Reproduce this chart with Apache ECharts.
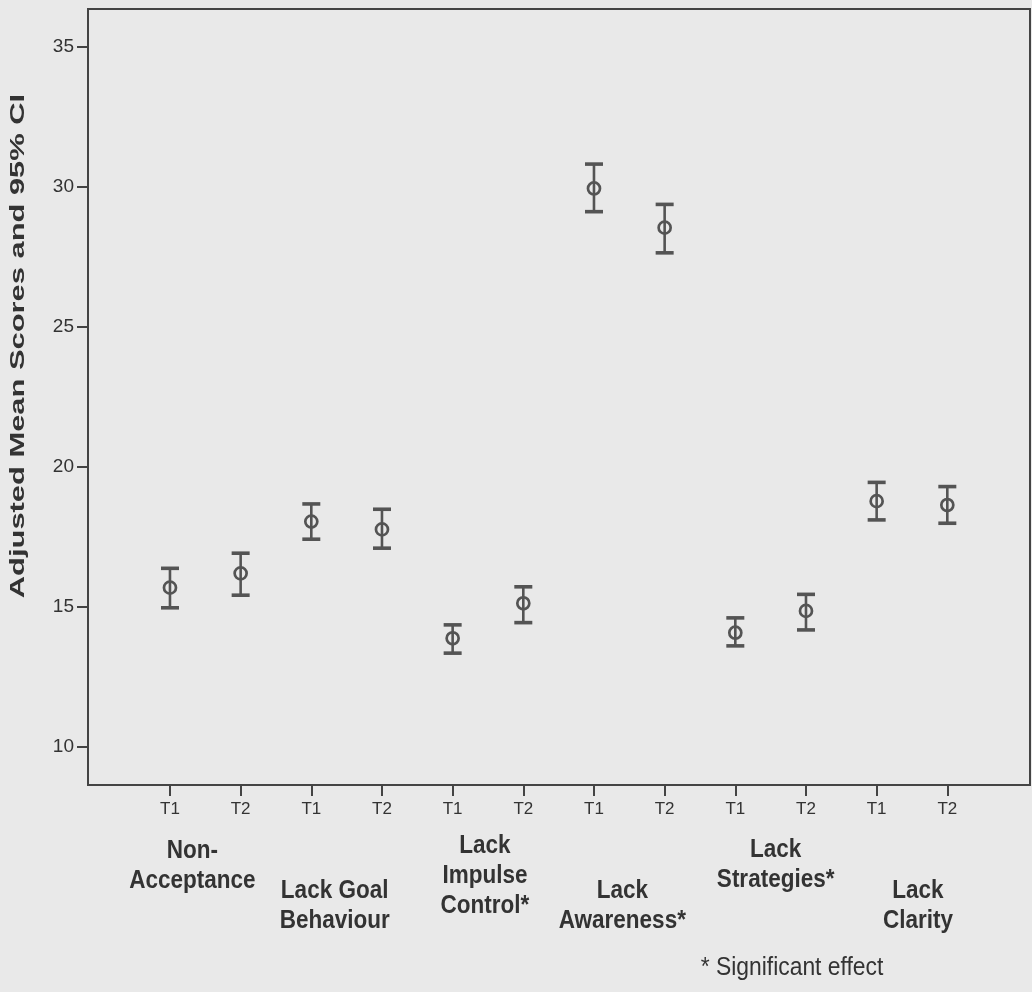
<!DOCTYPE html>
<html>
<head>
<meta charset="utf-8">
<script src="https://cdn.jsdelivr.net/npm/echarts@6/dist/echarts.min.js"></script>
<style>
  html, body { margin: 0; padding: 0; background: #e9e9e9; }
  #chart { width: 1032px; height: 992px; }
</style>
</head>
<body>
<div id="chart"></div>
<script>
// ---- data ----
const groupLabels = ['Non-\nAcceptance', 'Lack Goal\nBehaviour', 'Lack\nImpulse\nControl*', 'Lack\nAwareness*', 'Lack\nStrategies*', 'Lack\nClarity'];
const timeLabels = ['T1', 'T2', 'T1', 'T2', 'T1', 'T2', 'T1', 'T2', 'T1', 'T2', 'T1', 'T2'];
const means  = [15.68, 16.19, 18.04, 17.76, 13.87, 15.12, 29.94, 28.54, 14.07, 14.85, 18.77, 18.63];
const ciLow  = [14.96, 15.41, 17.41, 17.09, 13.34, 14.43, 29.11, 27.64, 13.60, 14.17, 18.10, 17.98];
const ciHigh = [16.37, 16.91, 18.67, 18.48, 14.35, 15.71, 30.81, 29.37, 14.60, 15.44, 19.44, 19.29];
const yTicks = [10, 15, 20, 25, 30, 35];
const footnote = '* Significant effect';
const yTitle = 'Adjusted Mean Scores and 95% CI';

// ---- layout ----
const positions = timeLabels.map((_, i) => i + 1);
const groupCenters = groupLabels.map((_, g) => 2 * g + 1.5);
const groupDx = [-13, -12, -3, -7, 5, 6];
const groupTopY = [836, 876, 831, 876, 835, 876];
const sans = '"Liberation Sans", Arial, sans-serif';

const seriesData = positions.map((p, i) => [p, means[i], ciLow[i], ciHigh[i]]);

const chart = echarts.init(document.getElementById('chart'), null, { renderer: 'canvas' });

chart.setOption({
  backgroundColor: '#e9e9e9',
  animation: false,
  grid: {
    left: 88, top: 9, right: 2, bottom: 207,
    show: true, borderColor: '#444', borderWidth: 2, backgroundColor: 'transparent'
  },
  xAxis: {
    type: 'value', min: -0.16, max: 13.17,
    splitLine: { show: false },
    axisLine: { show: true, onZero: false, lineStyle: { color: '#444', width: 2 } },
    axisTick: { show: true, customValues: positions, length: 11, lineStyle: { color: '#444', width: 2 } },
    axisLabel: {
      customValues: positions,
      formatter: (v) => timeLabels[Math.round(v) - 1] || '',
      margin: 16, color: '#333', fontSize: 17, fontFamily: sans
    }
  },
  yAxis: {
    type: 'value', min: 8.63, max: 36.35,
    splitLine: { show: false },
    axisLine: { show: true, onZero: false, lineStyle: { color: '#444', width: 2 } },
    axisTick: { show: true, customValues: yTicks, length: 11, lineStyle: { color: '#444', width: 2 } },
    axisLabel: {
      customValues: yTicks, margin: 14, color: '#333', fontSize: 19, fontFamily: sans
    }
  },
  series: [{
    type: 'custom',
    data: seriesData,
    renderItem: function (params, api) {
      const x = api.value(0);
      const c = api.coord([x, api.value(1)]);
      const lo = api.coord([x, api.value(2)]);
      const hi = api.coord([x, api.value(3)]);
      const cap = 9;
      const col = '#545454';
      return {
        type: 'group',
        children: [
          { type: 'line', shape: { x1: c[0], y1: hi[1], x2: c[0], y2: lo[1] }, style: { stroke: col, lineWidth: 2.6 } },
          { type: 'line', shape: { x1: c[0] - cap, y1: hi[1], x2: c[0] + cap, y2: hi[1] }, style: { stroke: col, lineWidth: 3.6 } },
          { type: 'line', shape: { x1: c[0] - cap, y1: lo[1], x2: c[0] + cap, y2: lo[1] }, style: { stroke: col, lineWidth: 3.6 } },
          { type: 'circle', shape: { cx: c[0], cy: c[1], r: 6 }, style: { fill: 'none', stroke: col, lineWidth: 2.7 } }
        ]
      };
    }
  }]
});

// group labels and texts positioned via the x scale
const graphics = groupLabels.map((txt, g) => {
  const px = chart.convertToPixel({ xAxisIndex: 0 }, groupCenters[g]);
  return {
    type: 'text',
    x: px + groupDx[g], y: groupTopY[g], scaleX: 0.9,
    style: {
      text: txt, fill: '#333',
      font: 'bold 25px ' + sans,
      lineHeight: 30,
      textAlign: 'center', align: 'center',
      textVerticalAlign: 'top', verticalAlign: 'top'
    }
  };
});
graphics.push({
  type: 'text', x: 792, y: 968, scaleX: 0.88,
  style: {
    text: footnote, fill: '#333', font: '26px ' + sans,
    textAlign: 'center', align: 'center', textVerticalAlign: 'middle', verticalAlign: 'middle'
  }
});
graphics.push({
  type: 'text', x: 18, y: 346, rotation: Math.PI / 2, scaleX: 1.47,
  style: {
    text: yTitle, fill: '#333', font: 'bold 21px ' + sans,
    textAlign: 'center', align: 'center', textVerticalAlign: 'middle', verticalAlign: 'middle'
  }
});
chart.setOption({ graphic: graphics });
</script>
</body>
</html>
